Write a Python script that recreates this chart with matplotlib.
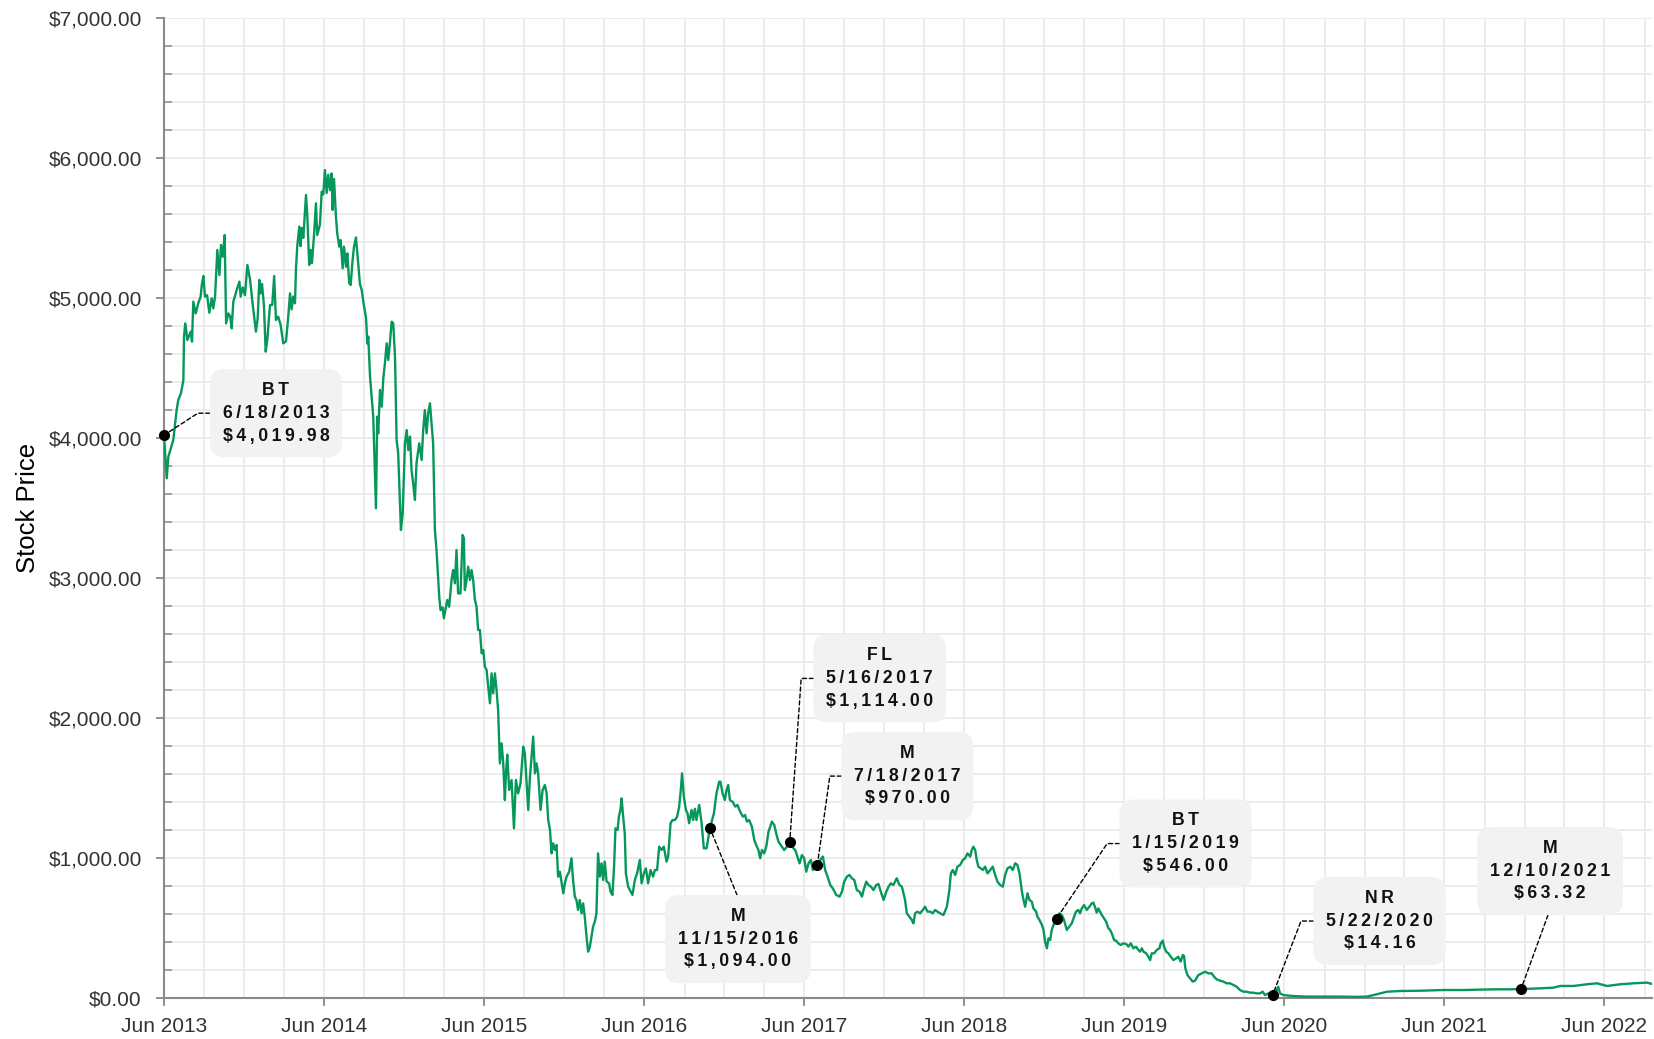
import matplotlib
matplotlib.use("Agg")
import matplotlib.dates as mdates
import matplotlib.pyplot as plt
import matplotlib.ticker as mticker
import numpy as np
import pandas as pd

plt.rcParams["font.family"] = ["Liberation Sans", "DejaVu Sans"]

# price series (decimal year, USD)
price_years = [
    2013.460, 2013.477, 2013.487, 2013.518, 2013.539, 2013.549, 2013.566, 2013.581, 2013.585, 2013.593,
    2013.606, 2013.627, 2013.635, 2013.643, 2013.658, 2013.674, 2013.689, 2013.696, 2013.706, 2013.716,
    2013.729, 2013.743, 2013.758, 2013.768, 2013.779, 2013.793, 2013.806, 2013.816, 2013.827, 2013.839,
    2013.848, 2013.862, 2013.873, 2013.883, 2013.893, 2013.914, 2013.931, 2013.939, 2013.952, 2013.966,
    2013.981, 2013.998, 2014.014, 2014.029, 2014.035, 2014.046, 2014.056, 2014.064, 2014.073, 2014.085,
    2014.096, 2014.106, 2014.123, 2014.137, 2014.149, 2014.160, 2014.174, 2014.189, 2014.206, 2014.223,
    2014.237, 2014.248, 2014.258, 2014.268, 2014.279, 2014.285, 2014.293, 2014.306, 2014.314, 2014.321,
    2014.331, 2014.348, 2014.356, 2014.368, 2014.377, 2014.385, 2014.398, 2014.410, 2014.418, 2014.435,
    2014.446, 2014.456, 2014.466, 2014.477, 2014.487, 2014.498, 2014.508, 2014.514, 2014.523, 2014.535,
    2014.543, 2014.556, 2014.564, 2014.577, 2014.585, 2014.598, 2014.606, 2014.618, 2014.627, 2014.639,
    2014.648, 2014.660, 2014.674, 2014.685, 2014.696, 2014.706, 2014.723, 2014.731, 2014.737, 2014.748,
    2014.768, 2014.785, 2014.793, 2014.799, 2014.810, 2014.821, 2014.831, 2014.841, 2014.852, 2014.862,
    2014.873, 2014.883, 2014.893, 2014.904, 2014.914, 2014.924, 2014.935, 2014.941, 2014.952, 2014.966,
    2014.977, 2014.987, 2014.998, 2015.008, 2015.018, 2015.029, 2015.039, 2015.056, 2015.071, 2015.081,
    2015.091, 2015.102, 2015.112, 2015.123, 2015.133, 2015.143, 2015.154, 2015.164,
    2015.181, 2015.189, 2015.202, 2015.210, 2015.223, 2015.231, 2015.243, 2015.258, 2015.268, 2015.279,
    2015.289, 2015.299, 2015.314, 2015.327, 2015.335, 2015.341, 2015.352, 2015.362, 2015.373, 2015.383,
    2015.393, 2015.404, 2015.414, 2015.424, 2015.435, 2015.446, 2015.456, 2015.466, 2015.477, 2015.487,
    2015.498, 2015.508, 2015.518, 2015.529, 2015.539, 2015.549, 2015.560, 2015.571, 2015.581, 2015.591,
    2015.598, 2015.606, 2015.618, 2015.633, 2015.648, 2015.660, 2015.674, 2015.689, 2015.706, 2015.716,
    2015.727, 2015.737, 2015.748, 2015.768, 2015.779, 2015.789, 2015.799, 2015.814, 2015.827, 2015.841,
    2015.852, 2015.862, 2015.873, 2015.883, 2015.893, 2015.904, 2015.914, 2015.924, 2015.935, 2015.946,
    2015.956, 2015.966, 2015.977, 2015.993, 2016.008, 2016.018, 2016.029, 2016.039, 2016.049, 2016.060,
    2016.071, 2016.081, 2016.091, 2016.102, 2016.112, 2016.123, 2016.133, 2016.143, 2016.154, 2016.164,
    2016.174, 2016.185, 2016.196, 2016.206, 2016.216, 2016.227, 2016.243, 2016.252, 2016.264, 2016.274,
    2016.283, 2016.296, 2016.304, 2016.314, 2016.321, 2016.331, 2016.341, 2016.348, 2016.362, 2016.373,
    2016.389, 2016.404, 2016.418, 2016.435, 2016.446, 2016.460, 2016.473, 2016.487, 2016.502, 2016.518,
    2016.529, 2016.543, 2016.556, 2016.571, 2016.585, 2016.602, 2016.612, 2016.627, 2016.639, 2016.654,
    2016.668, 2016.681, 2016.691, 2016.699, 2016.710, 2016.723, 2016.733, 2016.743, 2016.758, 2016.768,
    2016.779, 2016.789, 2016.806, 2016.821, 2016.835, 2016.852, 2016.873, 2016.898, 2016.914, 2016.931,
    2016.939, 2016.952, 2016.966, 2016.977, 2016.987, 2016.998, 2017.014, 2017.029, 2017.043, 2017.060,
    2017.077, 2017.091, 2017.102, 2017.116, 2017.133, 2017.148, 2017.160, 2017.174, 2017.185, 2017.196,
    2017.210, 2017.223, 2017.237, 2017.248, 2017.258, 2017.273, 2017.285, 2017.299, 2017.321, 2017.335,
    2017.352, 2017.373, 2017.393, 2017.404, 2017.414, 2017.431, 2017.446, 2017.460, 2017.473, 2017.487,
    2017.502, 2017.514, 2017.529, 2017.543, 2017.560, 2017.577, 2017.591, 2017.606, 2017.623, 2017.639,
    2017.660, 2017.681, 2017.696, 2017.710, 2017.727, 2017.743, 2017.758, 2017.773, 2017.789, 2017.806,
    2017.821, 2017.831, 2017.848, 2017.862, 2017.877, 2017.893, 2017.910, 2017.924, 2017.939, 2017.956,
    2017.973, 2017.987, 2018.002, 2018.018, 2018.039, 2018.056, 2018.071, 2018.081, 2018.091, 2018.102,
    2018.118, 2018.133, 2018.143, 2018.154, 2018.168, 2018.185, 2018.202, 2018.216, 2018.231, 2018.248,
    2018.264, 2018.279, 2018.293, 2018.310, 2018.331, 2018.352, 2018.368, 2018.377, 2018.389, 2018.404,
    2018.418, 2018.435, 2018.452, 2018.466, 2018.481, 2018.498, 2018.508, 2018.518, 2018.529, 2018.539,
    2018.549, 2018.564, 2018.577, 2018.591, 2018.606, 2018.623, 2018.639, 2018.654, 2018.668, 2018.685,
    2018.702, 2018.716, 2018.731, 2018.748, 2018.764, 2018.779, 2018.793, 2018.806, 2018.821, 2018.831,
    2018.841, 2018.856, 2018.868, 2018.883, 2018.893, 2018.910, 2018.918, 2018.931, 2018.946, 2018.956,
    2018.966, 2018.977, 2018.987, 2018.998, 2019.008, 2019.023, 2019.039,
    2019.056, 2019.071, 2019.085, 2019.102, 2019.118, 2019.133, 2019.148, 2019.160, 2019.174, 2019.185,
    2019.196, 2019.210, 2019.227, 2019.243, 2019.258, 2019.268, 2019.279, 2019.289, 2019.299, 2019.310,
    2019.321, 2019.335, 2019.348, 2019.362, 2019.373, 2019.383, 2019.398, 2019.410, 2019.424, 2019.439,
    2019.456, 2019.473, 2019.487, 2019.502, 2019.518, 2019.535, 2019.549, 2019.560, 2019.571, 2019.581,
    2019.598, 2019.612, 2019.623, 2019.633, 2019.648, 2019.664, 2019.681, 2019.689, 2019.702, 2019.710,
    2019.723, 2019.737, 2019.752, 2019.768, 2019.785, 2019.799, 2019.814, 2019.827, 2019.835, 2019.843,
    2019.856, 2019.873, 2019.889, 2019.904, 2019.924, 2019.946, 2019.966, 2019.987, 2020.008, 2020.023,
    2020.039, 2020.060, 2020.081, 2020.102, 2020.123, 2020.143, 2020.164, 2020.185, 2020.206, 2020.227,
    2020.248, 2020.268, 2020.289, 2020.310, 2020.327, 2020.341, 2020.362, 2020.389, 2020.410, 2020.424,
    2020.435, 2020.456, 2020.518, 2020.602, 2020.685, 2020.810, 2020.904, 2020.977, 2021.018, 2021.060,
    2021.102, 2021.185, 2021.310, 2021.456, 2021.581, 2021.685, 2021.789, 2021.873, 2021.946, 2022.060,
    2022.143, 2022.185, 2022.268, 2022.352, 2022.414, 2022.477, 2022.560, 2022.643, 2022.727, 2022.758,
]
price_values = [
    4020, 3712, 3866, 3986, 4200, 4271, 4319, 4414, 4724, 4819,
    4700, 4760, 4688, 4974, 4890, 4962, 5010, 5093, 5157, 5010,
    5020, 4895, 4998, 4926, 5010, 5343, 5164, 5379, 5295, 5450,
    4819, 4890, 4870, 4783, 4974, 5057, 5117, 5010, 5076, 5020,
    5236, 5129, 4962, 4819, 4760, 4855, 5129, 5033, 5100, 4950,
    4617, 4700, 4950, 4950, 5157, 4843, 4867, 4810, 4676, 4690,
    4867, 5033, 4919, 5010, 4962, 5200, 5367, 5510, 5370, 5500,
    5430, 5736, 5590, 5236, 5343, 5250, 5450, 5676, 5450, 5524,
    5760, 5740, 5914, 5750, 5880, 5770, 5890, 5629, 5850, 5581,
    5462, 5367, 5414, 5212, 5367, 5224, 5319, 5105, 5093, 5271,
    5367, 5433, 5243, 5100, 5057, 4974, 4857, 4676, 4724, 4438,
    4152, 3498, 4152, 4033, 4343, 4224, 4426, 4533, 4676, 4557,
    4690, 4831, 4819, 4581, 3986, 3890, 3533, 3343, 3462, 3962,
    4057, 3914, 4010, 3771, 3676, 3557, 3819, 3962, 3843, 4057,
    4200, 4033, 4176, 4248, 4105, 3962, 3343, 3200,
    2867, 2771, 2790, 2712, 2795, 2843, 2795, 2986, 3057, 2962,
    3200, 2890, 2890, 3307, 3283, 2914, 2986, 3081, 2986, 3057,
    2986, 2843, 2795, 2629, 2629, 2462, 2486, 2367, 2343, 2224,
    2105, 2319, 2176, 2319, 2200, 2057, 1676, 1819, 1676, 1414,
    1605, 1738, 1486, 1557, 1212, 1557, 1462, 1533, 1795, 1748,
    1533, 1343, 1581, 1867, 1605, 1676, 1605, 1343, 1486, 1521,
    1462, 1271, 1200, 1033, 1105, 1057, 1093, 867, 902, 819,
    748, 819, 867, 902, 998, 843, 724, 700, 629, 700,
    605, 676, 581, 438, 331, 367, 438, 510, 545, 605,
    1033, 867, 962, 843, 974, 833, 819, 760, 736, 938,
    1212, 1200, 1295, 1343, 1426, 1295, 1176, 890, 795, 771,
    736, 843, 890, 986, 819, 890, 926, 819, 914, 867,
    914, 914, 1081, 1057, 1081, 974, 1010, 1248, 1271, 1271,
    1295, 1367, 1486, 1605, 1438, 1343, 1319, 1248, 1343, 1271,
    1352, 1271, 1379, 1248, 1069, 1069, 1212, 1319, 1462, 1545,
    1545, 1462, 1414, 1486, 1521, 1414, 1400, 1367, 1379, 1331,
    1295, 1307, 1260, 1271, 1224, 1129, 1093, 1057, 998, 1057,
    1033, 1081, 1188, 1224, 1260, 1236, 1176, 1117, 1081, 1057,
    1081, 1117, 1069, 1057, 1021, 962, 1021, 998, 902, 962,
    986, 914, 938, 950, 986, 1010, 914, 867, 807, 783,
    736, 724, 759, 831, 867, 879, 855, 843, 771, 759,
    724, 771, 831, 807, 795, 771, 807, 814, 759, 700,
    759, 795, 819, 807, 855, 807, 795, 748, 700, 605,
    581, 557, 533, 605, 617, 605, 629, 652, 617, 617,
    605, 629, 617, 605, 593, 652, 771, 890, 914, 879,
    938, 950, 986, 998, 1033, 1010, 1057, 1081, 1057, 986,
    938, 926, 914, 938, 890, 914, 938, 879, 831, 807,
    795, 879, 926, 938, 914, 962, 950, 890, 760, 700,
    652, 748, 700, 688, 640, 617, 581, 557, 522, 486,
    402, 355, 426, 414, 486, 533, 569,
    605, 593, 557, 486, 510, 533, 581, 617, 629, 605,
    640, 664, 629, 652, 676, 681, 648, 610, 640, 617,
    593, 569, 545, 498, 486, 462, 414, 410, 390, 379,
    390, 386, 367, 390, 355, 367, 343, 331, 355, 331,
    319, 295, 271, 319, 319, 343, 355, 390, 410, 367,
    331, 319, 295, 271, 283, 295, 260, 307, 300, 212,
    164, 140, 117, 124, 164, 176, 188, 176, 176, 152,
    133, 124, 117, 105, 105, 93, 81, 57, 45, 45,
    38, 38, 33, 33, 45, 21, 33, 21, 45, 81,
    33, 21, 14, 10, 10, 10, 8, 10, 21, 33,
    45, 50, 52, 57, 57, 60, 62, 62, 64, 69,
    74, 86, 86, 98, 105, 86, 98, 105, 110, 100,
]

# annotated events
event_dates = ["2013-06-18", "2016-11-15", "2017-05-16", "2017-07-18",
               "2019-01-15", "2020-05-22", "2021-12-10"]
event_codes = ["BT", "M", "FL", "M", "BT", "NR", "M"]
event_prices = [4019.98, 1094.00, 1114.00, 970.00, 546.00, 14.16, 63.32]

# label placement: offset of box centre from point (pixels) and connector angles
label_offsets = [(112, 22), (28, -111), (90, 164), (90, 89), (129, 75), (107, 74), (29, 118)]
label_angles = [(0, 33), (90, -68), (0, 86), (0, 82), (0, 56), (0, 69), (90, 70)]

GREEN = "#06975a"
GRID = "#ebebeb"
SPINE = "#8a8a8a"


def to_dates(years):
    out = []
    for y in years:
        yr = int(y)
        out.append(pd.Timestamp(year=yr, month=1, day=1) + pd.Timedelta(days=(y - yr) * 365.25))
    return pd.DatetimeIndex(out)


def spaced(s):
    return "\u2009".join(s)


dates = to_dates(price_years)
xnum = mdates.date2num(dates)
ev_num = mdates.date2num(pd.to_datetime(event_dates))

fig = plt.figure(figsize=(16.54, 10.39), dpi=100)
ax = fig.add_axes([164 / 1654, 1 - 998 / 1039, (1652 - 164) / 1654, (998 - 18) / 1039])

ax.plot(dates, price_values, color=GREEN, lw=1.7, zorder=3, solid_joinstyle="round")

ax.set_ylim(0, 7000)
ax.set_xlim(min(xnum[0], ev_num[0]), xnum[-1])
ax.yaxis.set_major_locator(mticker.MultipleLocator(1000))
ax.yaxis.set_minor_locator(mticker.MultipleLocator(200))
ax.yaxis.set_major_formatter(mticker.FuncFormatter(lambda v, _: f"${v:,.2f}"))
ax.xaxis.set_major_locator(mdates.MonthLocator(bymonth=6, bymonthday=18))
ax.xaxis.set_minor_locator(mdates.MonthLocator(bymonth=[3, 9, 12], bymonthday=18))
ax.xaxis.set_major_formatter(mdates.DateFormatter("%b %Y"))

ax.grid(which="both", color=GRID, lw=1.3)
ax.set_axisbelow(True)
for side in ("top", "right"):
    ax.spines[side].set_visible(False)
for side in ("left", "bottom"):
    ax.spines[side].set_color(SPINE)
    ax.spines[side].set_linewidth(1.5)

ax.tick_params(axis="y", which="major", direction="out", length=6, width=1.3, color=SPINE,
               pad=10, labelsize=15, labelcolor="#333333")
ax.tick_params(axis="y", which="minor", direction="in", length=6, width=1.1, color=SPINE)
ax.tick_params(axis="x", which="major", direction="out", length=6, width=1.3, color=SPINE,
               pad=8, labelsize=15, labelcolor="#333333")
ax.tick_params(axis="x", which="minor", length=0)

ax.set_ylabel("Stock Price", fontsize=18.5, color="black")
ax.yaxis.set_label_coords(-0.083, 0.5)

ev_y = np.interp(ev_num, xnum, price_values)
ax.plot(ev_num, ev_y, "o", color="black", ms=7, zorder=6, clip_on=False)

for x, y, code, ds, p, off, (aa, ab) in zip(ev_num, ev_y, event_codes, event_dates,
                                              event_prices, label_offsets, label_angles):
    d = pd.Timestamp(ds)
    lines = [code, f"{d.month}/{d.day}/{d.year}", f"${p:,.2f}"]
    txt = "\n".join(spaced(s) for s in lines)
    ax.annotate(txt, xy=(x, y), xytext=off, textcoords="offset pixels",
                ha="center", va="center", ma="center", fontsize=12.7, fontweight="bold",
                color="#111111", linespacing=1.45, zorder=5, annotation_clip=False,
                bbox=dict(boxstyle="round,pad=0.72,rounding_size=0.8", fc="#f2f2f2", ec="none"),
                arrowprops=dict(arrowstyle="-", color="black", lw=1.0, linestyle=(0, (3, 2)),
                                shrinkA=0, shrinkB=0,
                                connectionstyle=f"angle,angleA={aa},angleB={ab},rad=0"))

fig.savefig("out.png", dpi=100)
